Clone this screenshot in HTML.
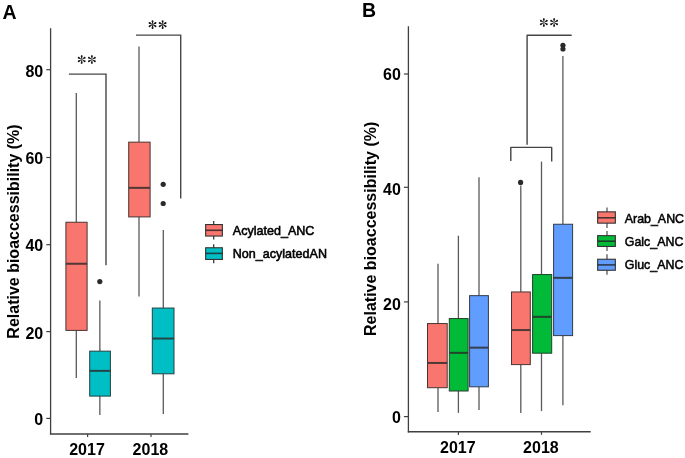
<!DOCTYPE html>
<html><head><meta charset="utf-8"><style>
html,body{margin:0;padding:0;background:#fff;}
body{width:685px;height:458px;overflow:hidden;}
svg{display:block;-webkit-font-smoothing:antialiased;will-change:transform;font-family:"Liberation Sans", sans-serif;}
text{fill:#000;}
</style></head><body>
<svg width="685" height="458" viewBox="0 0 685 458">
<rect width="685" height="458" fill="#fff"/>
<text x="2.5" y="19" font-size="19.5" font-weight="bold" text-anchor="start" >A</text>
<line x1="46.3" y1="418.4" x2="50.5" y2="418.4" stroke="#404040" stroke-width="1.2"/>
<text x="43.2" y="425.4" font-size="16" font-weight="bold" text-anchor="end" >0</text>
<line x1="46.3" y1="331.6" x2="50.5" y2="331.6" stroke="#404040" stroke-width="1.2"/>
<text x="43.2" y="338.8" font-size="16" font-weight="bold" text-anchor="end" >20</text>
<line x1="46.3" y1="244.7" x2="50.5" y2="244.7" stroke="#404040" stroke-width="1.2"/>
<text x="43.2" y="250.75" font-size="16" font-weight="bold" text-anchor="end" >40</text>
<line x1="46.3" y1="157.5" x2="50.5" y2="157.5" stroke="#404040" stroke-width="1.2"/>
<text x="43.2" y="163.65" font-size="16" font-weight="bold" text-anchor="end" >60</text>
<line x1="46.3" y1="69.7" x2="50.5" y2="69.7" stroke="#404040" stroke-width="1.2"/>
<text x="43.2" y="76.7" font-size="16" font-weight="bold" text-anchor="end" >80</text>
<line x1="87.6" y1="434" x2="87.6" y2="437.0" stroke="#404040" stroke-width="1.2"/>
<text x="87.0" y="454.6" font-size="16" font-weight="bold" text-anchor="middle" >2017</text>
<line x1="151" y1="434" x2="151" y2="437.0" stroke="#404040" stroke-width="1.2"/>
<text x="150.4" y="454.6" font-size="16" font-weight="bold" text-anchor="middle" >2018</text>
<text x="0" y="0" font-size="16" font-weight="bold" text-anchor="middle" transform="translate(18.6,231.5) rotate(-90)">Relative bioaccessibility (%)</text>
<line x1="76.3" y1="93.0" x2="76.3" y2="222.25" stroke="#5a5a5a" stroke-width="1.3"/>
<line x1="76.3" y1="330.4" x2="76.3" y2="378.0" stroke="#5a5a5a" stroke-width="1.3"/>
<rect x="65.89999999999999" y="222.25" width="21.20" height="108.15" fill="#F8766D" stroke="#493534" stroke-width="1.0"/>
<line x1="65.89999999999999" y1="263.75" x2="87.1" y2="263.75" stroke="#4f3836" stroke-width="2"/>
<line x1="99.85" y1="300.6" x2="99.85" y2="351.15" stroke="#5a5a5a" stroke-width="1.3"/>
<line x1="99.85" y1="396.09999999999997" x2="99.85" y2="415.1" stroke="#5a5a5a" stroke-width="1.3"/>
<rect x="89.7" y="351.15" width="20.70" height="44.95" fill="#00BFC4" stroke="#244041" stroke-width="1.0"/>
<line x1="89.7" y1="370.85" x2="110.39999999999999" y2="370.85" stroke="#224546" stroke-width="2"/>
<circle cx="99.8" cy="281.6" r="2.6" fill="#2a2a2a"/>
<line x1="139.0" y1="46.6" x2="139.0" y2="142.15" stroke="#5a5a5a" stroke-width="1.3"/>
<line x1="139.0" y1="216.89999999999998" x2="139.0" y2="296.4" stroke="#5a5a5a" stroke-width="1.3"/>
<rect x="128.70000000000002" y="142.15" width="21.40" height="74.75" fill="#F8766D" stroke="#493534" stroke-width="1.0"/>
<line x1="128.70000000000002" y1="187.85" x2="150.1" y2="187.85" stroke="#4f3836" stroke-width="2"/>
<line x1="163.3" y1="229.9" x2="163.3" y2="308.05" stroke="#5a5a5a" stroke-width="1.3"/>
<line x1="163.3" y1="373.8" x2="163.3" y2="413.9" stroke="#5a5a5a" stroke-width="1.3"/>
<rect x="152.3" y="308.05" width="21.70" height="65.75" fill="#00BFC4" stroke="#244041" stroke-width="1.0"/>
<line x1="152.3" y1="338.55" x2="174.0" y2="338.55" stroke="#224546" stroke-width="2"/>
<circle cx="163.2" cy="184.3" r="2.6" fill="#2a2a2a"/>
<circle cx="163.2" cy="203.5" r="2.6" fill="#2a2a2a"/>
<line x1="50.6" y1="28.2" x2="50.6" y2="434.6" stroke="#404040" stroke-width="1.3"/>
<line x1="49.9" y1="434.0" x2="188.4" y2="434.0" stroke="#404040" stroke-width="1.45"/>
<polyline points="68.9,74.1 106,74.1 106,265.3" fill="none" stroke="#464646" stroke-width="1.4"/>
<polyline points="136,35.1 180.7,35.1 180.7,198.5" fill="none" stroke="#464646" stroke-width="1.4"/>
<g transform="translate(81.7,59.5)" fill="#151515"><path d="M -0.12 0 L -0.75 -2.74 A 1.0 1.0 0 1 1 0.75 -2.74 L 0.12 0 Z" transform="rotate(0)"/><path d="M -0.12 0 L -0.75 -2.74 A 1.0 1.0 0 1 1 0.75 -2.74 L 0.12 0 Z" transform="rotate(60)"/><path d="M -0.12 0 L -0.75 -2.74 A 1.0 1.0 0 1 1 0.75 -2.74 L 0.12 0 Z" transform="rotate(120)"/><path d="M -0.12 0 L -0.75 -2.74 A 1.0 1.0 0 1 1 0.75 -2.74 L 0.12 0 Z" transform="rotate(180)"/><path d="M -0.12 0 L -0.75 -2.74 A 1.0 1.0 0 1 1 0.75 -2.74 L 0.12 0 Z" transform="rotate(240)"/><path d="M -0.12 0 L -0.75 -2.74 A 1.0 1.0 0 1 1 0.75 -2.74 L 0.12 0 Z" transform="rotate(300)"/></g>
<g transform="translate(91.9,59.5)" fill="#151515"><path d="M -0.12 0 L -0.75 -2.74 A 1.0 1.0 0 1 1 0.75 -2.74 L 0.12 0 Z" transform="rotate(0)"/><path d="M -0.12 0 L -0.75 -2.74 A 1.0 1.0 0 1 1 0.75 -2.74 L 0.12 0 Z" transform="rotate(60)"/><path d="M -0.12 0 L -0.75 -2.74 A 1.0 1.0 0 1 1 0.75 -2.74 L 0.12 0 Z" transform="rotate(120)"/><path d="M -0.12 0 L -0.75 -2.74 A 1.0 1.0 0 1 1 0.75 -2.74 L 0.12 0 Z" transform="rotate(180)"/><path d="M -0.12 0 L -0.75 -2.74 A 1.0 1.0 0 1 1 0.75 -2.74 L 0.12 0 Z" transform="rotate(240)"/><path d="M -0.12 0 L -0.75 -2.74 A 1.0 1.0 0 1 1 0.75 -2.74 L 0.12 0 Z" transform="rotate(300)"/></g>
<g transform="translate(152.55,24.6)" fill="#151515"><path d="M -0.12 0 L -0.75 -2.74 A 1.0 1.0 0 1 1 0.75 -2.74 L 0.12 0 Z" transform="rotate(0)"/><path d="M -0.12 0 L -0.75 -2.74 A 1.0 1.0 0 1 1 0.75 -2.74 L 0.12 0 Z" transform="rotate(60)"/><path d="M -0.12 0 L -0.75 -2.74 A 1.0 1.0 0 1 1 0.75 -2.74 L 0.12 0 Z" transform="rotate(120)"/><path d="M -0.12 0 L -0.75 -2.74 A 1.0 1.0 0 1 1 0.75 -2.74 L 0.12 0 Z" transform="rotate(180)"/><path d="M -0.12 0 L -0.75 -2.74 A 1.0 1.0 0 1 1 0.75 -2.74 L 0.12 0 Z" transform="rotate(240)"/><path d="M -0.12 0 L -0.75 -2.74 A 1.0 1.0 0 1 1 0.75 -2.74 L 0.12 0 Z" transform="rotate(300)"/></g>
<g transform="translate(162.65,24.6)" fill="#151515"><path d="M -0.12 0 L -0.75 -2.74 A 1.0 1.0 0 1 1 0.75 -2.74 L 0.12 0 Z" transform="rotate(0)"/><path d="M -0.12 0 L -0.75 -2.74 A 1.0 1.0 0 1 1 0.75 -2.74 L 0.12 0 Z" transform="rotate(60)"/><path d="M -0.12 0 L -0.75 -2.74 A 1.0 1.0 0 1 1 0.75 -2.74 L 0.12 0 Z" transform="rotate(120)"/><path d="M -0.12 0 L -0.75 -2.74 A 1.0 1.0 0 1 1 0.75 -2.74 L 0.12 0 Z" transform="rotate(180)"/><path d="M -0.12 0 L -0.75 -2.74 A 1.0 1.0 0 1 1 0.75 -2.74 L 0.12 0 Z" transform="rotate(240)"/><path d="M -0.12 0 L -0.75 -2.74 A 1.0 1.0 0 1 1 0.75 -2.74 L 0.12 0 Z" transform="rotate(300)"/></g>
<line x1="213.7" y1="221.0" x2="213.7" y2="239.6" stroke="#3a3a3a" stroke-width="1.3"/>
<rect x="205.64999999999998" y="224.54999999999998" width="16.70" height="11.50" fill="#F8766D" stroke="#333333" stroke-width="1.1"/>
<line x1="205.64999999999998" y1="230.3" x2="222.35000000000002" y2="230.3" stroke="#222" stroke-opacity="0.8" stroke-width="1.6"/>
<line x1="213.7" y1="244.3" x2="213.7" y2="263.3" stroke="#3a3a3a" stroke-width="1.3"/>
<rect x="205.64999999999998" y="247.75" width="16.70" height="11.70" fill="#00BFC4" stroke="#333333" stroke-width="1.1"/>
<line x1="205.64999999999998" y1="253.4" x2="222.35000000000002" y2="253.4" stroke="#222" stroke-opacity="0.8" stroke-width="1.6"/>
<text x="232.8" y="235.0" font-size="12.55" font-weight="normal" text-anchor="start" stroke="#000" stroke-width="0.55">Acylated_ANC</text>
<text x="232.8" y="257.9" font-size="12.55" font-weight="normal" text-anchor="start" stroke="#000" stroke-width="0.55">Non_acylatedAN</text>
<text x="362.0" y="17.1" font-size="19.5" font-weight="bold" text-anchor="start" >B</text>
<line x1="403.9" y1="416.6" x2="408.4" y2="416.6" stroke="#404040" stroke-width="1.2"/>
<text x="400.9" y="423.2" font-size="16" font-weight="bold" text-anchor="end" >0</text>
<line x1="403.9" y1="301.9" x2="408.4" y2="301.9" stroke="#404040" stroke-width="1.2"/>
<text x="400.9" y="309.6" font-size="16" font-weight="bold" text-anchor="end" >20</text>
<line x1="403.9" y1="187.3" x2="408.4" y2="187.3" stroke="#404040" stroke-width="1.2"/>
<text x="400.9" y="195.3" font-size="16" font-weight="bold" text-anchor="end" >40</text>
<line x1="403.9" y1="74.0" x2="408.4" y2="74.0" stroke="#404040" stroke-width="1.2"/>
<text x="400.9" y="80.3" font-size="16" font-weight="bold" text-anchor="end" >60</text>
<line x1="458.4" y1="431.8" x2="458.4" y2="434.9" stroke="#404040" stroke-width="1.2"/>
<text x="457.79999999999995" y="453.3" font-size="16" font-weight="bold" text-anchor="middle" >2017</text>
<line x1="541.5" y1="431.8" x2="541.5" y2="434.9" stroke="#404040" stroke-width="1.2"/>
<text x="540.9" y="453.3" font-size="16" font-weight="bold" text-anchor="middle" >2018</text>
<text x="0" y="0" font-size="16" font-weight="bold" text-anchor="middle" transform="translate(375.6,228.8) rotate(-90)">Relative bioaccessibility (%)</text>
<line x1="438.0" y1="263.8" x2="438.0" y2="323.55" stroke="#5a5a5a" stroke-width="1.3"/>
<line x1="438.0" y1="387.7" x2="438.0" y2="411.9" stroke="#5a5a5a" stroke-width="1.3"/>
<rect x="427.5" y="323.55" width="19.70" height="64.15" fill="#F8766D" stroke="#493534" stroke-width="1.0"/>
<line x1="427.5" y1="362.95" x2="447.20000000000005" y2="362.95" stroke="#4f3836" stroke-width="2"/>
<line x1="458.4" y1="235.7" x2="458.4" y2="318.55" stroke="#5a5a5a" stroke-width="1.3"/>
<line x1="458.4" y1="391.0" x2="458.4" y2="412.9" stroke="#5a5a5a" stroke-width="1.3"/>
<rect x="449.3" y="318.55" width="18.80" height="72.45" fill="#00BA38" stroke="#24402c" stroke-width="1.0"/>
<line x1="449.3" y1="352.85" x2="468.1" y2="352.85" stroke="#22442d" stroke-width="2"/>
<line x1="479.0" y1="177.3" x2="479.0" y2="295.65" stroke="#5a5a5a" stroke-width="1.3"/>
<line x1="479.0" y1="386.8" x2="479.0" y2="410.0" stroke="#5a5a5a" stroke-width="1.3"/>
<rect x="469.6" y="295.65" width="18.80" height="91.15" fill="#619CFF" stroke="#323b4a" stroke-width="1.0"/>
<line x1="469.6" y1="347.65" x2="488.40000000000003" y2="347.65" stroke="#343f50" stroke-width="2"/>
<line x1="520.8" y1="185.5" x2="520.8" y2="291.95" stroke="#5a5a5a" stroke-width="1.3"/>
<line x1="520.8" y1="364.59999999999997" x2="520.8" y2="413.1" stroke="#5a5a5a" stroke-width="1.3"/>
<rect x="511.5" y="291.95" width="18.80" height="72.65" fill="#F8766D" stroke="#493534" stroke-width="1.0"/>
<line x1="511.5" y1="330.05" x2="530.3000000000001" y2="330.05" stroke="#4f3836" stroke-width="2"/>
<circle cx="520.6" cy="182.4" r="2.6" fill="#2a2a2a"/>
<line x1="541.5" y1="161.6" x2="541.5" y2="274.55" stroke="#5a5a5a" stroke-width="1.3"/>
<line x1="541.5" y1="353.2" x2="541.5" y2="411.1" stroke="#5a5a5a" stroke-width="1.3"/>
<rect x="532.5999999999999" y="274.55" width="19.10" height="78.65" fill="#00BA38" stroke="#24402c" stroke-width="1.0"/>
<line x1="532.5999999999999" y1="316.85" x2="551.7" y2="316.85" stroke="#22442d" stroke-width="2"/>
<line x1="562.9" y1="56.0" x2="562.9" y2="224.25" stroke="#5a5a5a" stroke-width="1.3"/>
<line x1="562.9" y1="335.59999999999997" x2="562.9" y2="405.2" stroke="#5a5a5a" stroke-width="1.3"/>
<rect x="553.5999999999999" y="224.25" width="19.00" height="111.35" fill="#619CFF" stroke="#323b4a" stroke-width="1.0"/>
<line x1="553.5999999999999" y1="277.85" x2="572.6" y2="277.85" stroke="#343f50" stroke-width="2"/>
<circle cx="562.95" cy="45.35" r="2.6" fill="#2a2a2a"/>
<circle cx="562.95" cy="49.0" r="2.6" fill="#2a2a2a"/>
<line x1="408.4" y1="26.3" x2="408.4" y2="432.4" stroke="#404040" stroke-width="1.3"/>
<line x1="407.8" y1="431.8" x2="590.7" y2="431.8" stroke="#404040" stroke-width="1.45"/>
<polyline points="527.1,144.7 527.1,35.2 571.7,35.2" fill="none" stroke="#444444" stroke-width="1.4" stroke-linejoin="round"/>
<polyline points="510.8,160.9 510.8,147.4 551.7,147.4 551.7,161.6" fill="none" stroke="#444444" stroke-width="1.4" stroke-linejoin="round"/>
<g transform="translate(543.85,22.5)" fill="#151515"><path d="M -0.12 0 L -0.75 -2.74 A 1.0 1.0 0 1 1 0.75 -2.74 L 0.12 0 Z" transform="rotate(0)"/><path d="M -0.12 0 L -0.75 -2.74 A 1.0 1.0 0 1 1 0.75 -2.74 L 0.12 0 Z" transform="rotate(60)"/><path d="M -0.12 0 L -0.75 -2.74 A 1.0 1.0 0 1 1 0.75 -2.74 L 0.12 0 Z" transform="rotate(120)"/><path d="M -0.12 0 L -0.75 -2.74 A 1.0 1.0 0 1 1 0.75 -2.74 L 0.12 0 Z" transform="rotate(180)"/><path d="M -0.12 0 L -0.75 -2.74 A 1.0 1.0 0 1 1 0.75 -2.74 L 0.12 0 Z" transform="rotate(240)"/><path d="M -0.12 0 L -0.75 -2.74 A 1.0 1.0 0 1 1 0.75 -2.74 L 0.12 0 Z" transform="rotate(300)"/></g>
<g transform="translate(554.1,22.5)" fill="#151515"><path d="M -0.12 0 L -0.75 -2.74 A 1.0 1.0 0 1 1 0.75 -2.74 L 0.12 0 Z" transform="rotate(0)"/><path d="M -0.12 0 L -0.75 -2.74 A 1.0 1.0 0 1 1 0.75 -2.74 L 0.12 0 Z" transform="rotate(60)"/><path d="M -0.12 0 L -0.75 -2.74 A 1.0 1.0 0 1 1 0.75 -2.74 L 0.12 0 Z" transform="rotate(120)"/><path d="M -0.12 0 L -0.75 -2.74 A 1.0 1.0 0 1 1 0.75 -2.74 L 0.12 0 Z" transform="rotate(180)"/><path d="M -0.12 0 L -0.75 -2.74 A 1.0 1.0 0 1 1 0.75 -2.74 L 0.12 0 Z" transform="rotate(240)"/><path d="M -0.12 0 L -0.75 -2.74 A 1.0 1.0 0 1 1 0.75 -2.74 L 0.12 0 Z" transform="rotate(300)"/></g>
<line x1="607.0" y1="207.5" x2="607.0" y2="228.0" stroke="#5a5a5a" stroke-width="1.3"/>
<rect x="597.6500000000001" y="211.85" width="17.70" height="11.30" fill="#F8766D" stroke="#333333" stroke-width="1.1"/>
<line x1="597.6500000000001" y1="217.8" x2="615.3499999999999" y2="217.8" stroke="#222" stroke-opacity="0.8" stroke-width="1.6"/>
<line x1="607.0" y1="231.0" x2="607.0" y2="251.0" stroke="#5a5a5a" stroke-width="1.3"/>
<rect x="597.6500000000001" y="235.64999999999998" width="17.70" height="10.80" fill="#00BA38" stroke="#333333" stroke-width="1.1"/>
<line x1="597.6500000000001" y1="241.2" x2="615.3499999999999" y2="241.2" stroke="#222" stroke-opacity="0.8" stroke-width="1.6"/>
<line x1="607.0" y1="254.3" x2="607.0" y2="274.7" stroke="#5a5a5a" stroke-width="1.3"/>
<rect x="597.6500000000001" y="259.25" width="17.70" height="11.00" fill="#619CFF" stroke="#333333" stroke-width="1.1"/>
<line x1="597.6500000000001" y1="264.9" x2="615.3499999999999" y2="264.9" stroke="#222" stroke-opacity="0.8" stroke-width="1.6"/>
<text x="624.8" y="222.8" font-size="12.4" font-weight="normal" text-anchor="start" stroke="#000" stroke-width="0.5">Arab_ANC</text>
<text x="624.8" y="245.8" font-size="12.4" font-weight="normal" text-anchor="start" stroke="#000" stroke-width="0.5">Galc_ANC</text>
<text x="624.8" y="269.4" font-size="12.4" font-weight="normal" text-anchor="start" stroke="#000" stroke-width="0.5">Gluc_ANC</text>
</svg>
</body></html>
